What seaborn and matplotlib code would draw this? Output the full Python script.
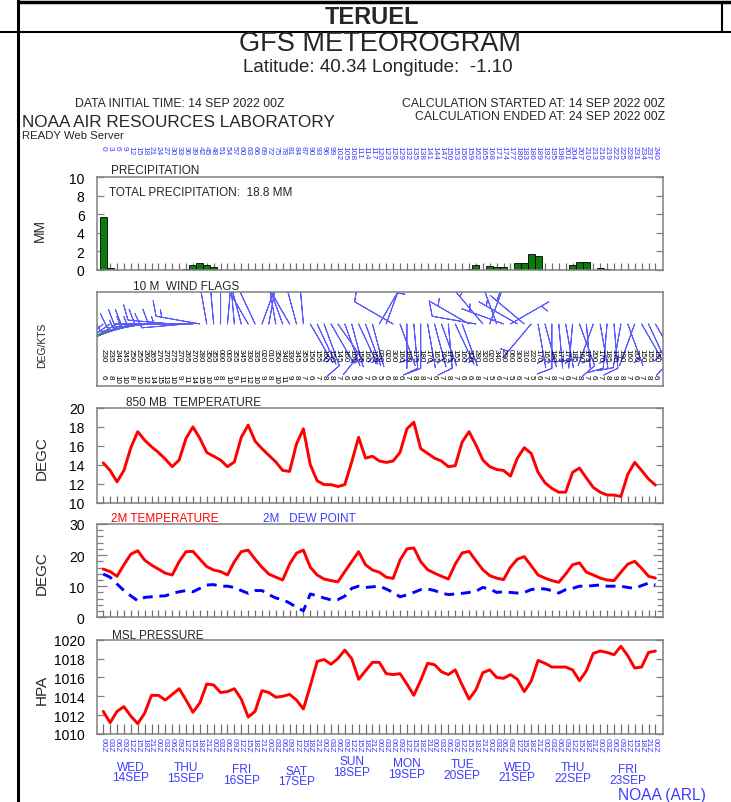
import numpy as np
import matplotlib
matplotlib.use('Agg')
import matplotlib.pyplot as plt
import matplotlib.transforms as mtransforms
from matplotlib.lines import Line2D
from matplotlib.ticker import MultipleLocator
import seaborn as sns

# values, one per 3 h step from 14 SEP 2022 00Z
steps = np.arange(81)
fc_hours = steps * 3

t850 = [14.2, 13.4, 12.2, 13.4, 15.8, 17.5, 16.6, 15.9, 15.3, 14.6,
        13.8, 14.5, 16.8, 18.0, 16.8, 15.3, 14.9, 14.5, 13.8, 14.3,
        16.9, 18.2, 16.5, 15.7, 15.0, 14.3, 13.4, 13.3, 16.2, 17.8,
        14.0, 12.3, 11.9, 11.9, 11.7, 11.9, 14.3, 16.9, 14.7, 14.9,
        14.4, 14.25, 14.4, 15.3, 17.8, 18.5, 15.7, 15.2, 14.7, 14.4,
        13.8, 13.9, 16.4, 17.5, 16.1, 14.5, 13.8, 13.5, 13.4, 12.8,
        14.7, 15.8, 15.2, 13.2, 12.1, 11.5, 11.1, 11.1, 13.2, 13.65,
        12.6, 11.6, 11.1, 10.8, 10.8, 10.65, 13.0, 14.25, 13.4, 12.5,
        11.85]

t2m = [15.5, 14.7, 13.2, 16.9, 20.3, 21.4, 18.4, 16.8, 15.5, 14.2,
       13.6, 17.9, 21.1, 21.2, 18.7, 16.3, 15.2, 14.7, 13.6, 17.9,
       21.1, 21.6, 18.7, 16.1, 13.9, 12.9, 12.0, 17.1, 20.6, 21.6,
       16.1, 13.6, 12.3, 11.8, 11.4, 14.7, 17.9, 21.1, 16.9, 15.2,
       14.5, 12.9, 12.5, 18.4, 22.0, 22.3, 17.9, 15.3, 14.2, 13.2,
       12.3, 17.1, 20.7, 21.2, 18.2, 15.3, 13.4, 12.6, 12.1, 16.1,
       18.7, 19.5, 16.6, 13.6, 12.6, 11.8, 11.25, 13.9, 16.9, 17.5,
       14.5, 13.6, 12.6, 12.0, 11.8, 14.5, 17.1, 18.0, 15.75, 13.2,
       12.6]

td2m = [13.9, 12.9, 10.7, 8.6, 6.9, 5.3, 6.4, 6.6, 6.8, 6.9,
        7.7, 8.2, 8.6, 8.2, 9.3, 10.4, 10.5, 10.0, 10.0, 9.6,
        8.6, 7.7, 8.6, 8.6, 7.3, 6.2, 5.7, 4.6, 3.2, 2.1,
        7.5, 6.9, 6.2, 5.6, 5.7, 6.8, 9.3, 10.0, 9.6, 9.8,
        10.0, 9.1, 8.0, 6.6, 7.2, 8.0, 8.9, 9.1, 8.6, 7.8,
        7.3, 7.5, 7.7, 8.0, 8.4, 9.6, 9.1, 8.0, 8.2, 8.0,
        7.8, 8.0, 8.9, 9.3, 9.1, 8.6, 7.8, 8.9, 9.3, 10.0,
        10.0, 10.2, 10.4, 10.0, 10.0, 10.0, 9.6, 9.3, 10.2, 11.0,
        10.4]

mslp = [1012.4, 1011.2, 1012.4, 1012.9, 1011.9, 1011.1, 1012.2, 1014.1, 1014.1, 1013.6,
        1014.2, 1014.8, 1013.6, 1012.3, 1013.3, 1015.3, 1015.2, 1014.4, 1014.5, 1014.8,
        1013.7, 1011.8, 1012.4, 1014.6, 1014.4, 1013.9, 1014.0, 1014.2, 1013.6, 1012.65,
        1015.1, 1017.7, 1017.9, 1017.4, 1018.0, 1018.9, 1018.0, 1015.8, 1016.7, 1017.6,
        1017.6, 1016.4, 1016.3, 1016.4, 1015.3, 1014.1, 1015.7, 1017.5, 1017.35, 1016.6,
        1016.3, 1016.8, 1015.2, 1013.7, 1014.7, 1016.5, 1016.8, 1016.0, 1015.9, 1016.3,
        1015.8, 1014.5, 1015.6, 1017.8, 1017.5, 1017.1, 1017.1, 1017.1, 1016.8, 1015.65,
        1016.7, 1018.55, 1018.8, 1018.65, 1018.4, 1019.3, 1018.3, 1017.0, 1017.1, 1018.65,
        1018.8]

precip_step = [0, 1, 12, 13, 14, 15, 16, 53, 54, 56, 57, 58, 60, 61, 62, 63, 64, 68, 69, 70, 72, 73]
precip_mm = [5.75, 0.25, 0.14, 0.57, 0.71, 0.54, 0.36, 0.1, 0.57, 0.46, 0.36, 0.36,
             0.75, 0.75, 1.68, 1.54, 0.04, 0.57, 0.89, 0.89, 0.21, 0.07]
total_precip = 18.8

wind_dir = [230, 235, 240, 245, 250,
            255, 260, 265, 270, 270, 275, 270, 265, 270, 280,
            350, 355, 0, 5, 355, 345, 330, 335, 20, 10, 350, 340, 330, 345, 355,
            150, 155, 160, 150, 145, 160, 165, 155, 160,
            165, 30, 20, 300, 160,
            180, 175, 180, 170, 165, 160, 175, 155, 160,
            300, 280, 320, 20, 340, 290, 60, 300, 310, 220,
            170, 165, 180, 175, 170, 185, 160, 175,
            200, 170, 185, 175, 190, 160, 200, 150, 155, 150]
wind_kt = [6, 8, 10, 10, 8,
           10, 12, 14, 15, 13, 10, 9, 11, 14, 15,
           10, 9, 8, 10, 9, 11, 12, 10, 9, 8, 10, 11, 9, 8, 7,
           6, 7, 8, 8, 7, 6, 5, 6, 7,
           6, 5, 6, 8, 6,
           7, 8, 8, 7, 6, 7, 8, 7, 6,
           6, 8, 7, 5, 6, 7, 5, 6, 7, 5,
           6, 7, 8, 7, 6, 7, 8, 7,
           6, 7, 8, 9, 8, 7, 6, 7, 8, 6]
wind_green = [2, 3, 4]

day_names = ['WED', 'THU', 'FRI', 'SAT', 'SUN', 'MON', 'TUE', 'WED', 'THU', 'FRI']
day_dates = ['14SEP', '15SEP', '16SEP', '17SEP', '18SEP', '19SEP', '20SEP', '21SEP', '22SEP', '23SEP']
hour_labels = ['%02dZ' % (h % 24) for h in fc_hours]

# layout helpers (pixel positions of the 731x803 picture)
W, H = 731, 803
BLUE = '#3c3cff'
GRAY = '#808080'

sns.set_theme(style='white')
plt.rcParams['font.family'] = ['Liberation Sans', 'DejaVu Sans']

fig = plt.figure(figsize=(W / 100, H / 100), dpi=100)


def fy(py):
    return 1 - py / H


def txt(px, py, s, size, **kw):
    fig.text(px / W, fy(py), s, fontsize=size, va='center', **kw)


def panel(top, bottom):
    ax = fig.add_axes([97 / W, fy(bottom), (663 - 97) / W, (bottom - top) / H])
    ax.set_xlim(-0.9, 81.1)
    ax.set_facecolor('white')
    for sp in ax.spines.values():
        sp.set_color(GRAY)
        sp.set_linewidth(1.1)
    ax.set_xticks(steps)
    ax.tick_params(axis='x', direction='in', length=5, width=0.9, color='#707070',
                   labelbottom=False, bottom=True, top=False)
    ax.tick_params(axis='y', direction='in', length=5, width=0.9, color=GRAY,
                   left=True, right=True, labelsize=10, pad=9, labelcolor='black')
    ax.set_xlabel('')
    ax.set_ylabel('')
    return ax


# frame lines
fig.add_artist(Line2D([18 / W, 18 / W], [0, 1], color='black', lw=2.2))
fig.add_artist(Line2D([18 / W, 1], [fy(3), fy(3)], color='black', lw=2.5))
fig.add_artist(Line2D([0, 1], [fy(33), fy(33)], color='black', lw=1.5))
fig.add_artist(Line2D([722 / W, 722 / W], [fy(3), fy(33)], color='black', lw=1.5))

# header
txt(372, 18, 'TERUEL', 17, ha='center', fontweight='bold')
txt(380, 44, 'GFS METEOROGRAM', 19.5, ha='center')
txt(378, 67, 'Latitude: 40.34 Longitude:  -1.10', 13.5, ha='center')
txt(75, 104, 'DATA INITIAL TIME: 14 SEP 2022 00Z', 8.8, ha='left')
txt(665, 104, 'CALCULATION STARTED AT: 14 SEP 2022 00Z', 8.8, ha='right')
txt(665, 117, 'CALCULATION ENDED AT: 24 SEP 2022 00Z', 8.8, ha='right')
txt(22, 123, 'NOAA AIR RESOURCES LABORATORY', 12.3, ha='left')
txt(22, 136, 'READY Web Server', 8.2, ha='left')

# precipitation
ax1 = panel(178, 271)
ax1.bar(precip_step, precip_mm, width=1.0, color='#0b7a0b', edgecolor='black', linewidth=0.6)
ax1.set_ylim(0, 10)
ax1.set_yticks(range(0, 11, 2))
ax1.text(0.022, 0.84, 'TOTAL PRECIPITATION:  %.1f MM' % total_precip, transform=ax1.transAxes,
         fontsize=8.5, va='center')
txt(111, 171, 'PRECIPITATION', 8.5, ha='left')
txt(40, 230, 'MM', 10, ha='center', rotation=90)
tr1 = mtransforms.blended_transform_factory(ax1.transData, fig.transFigure)
for s, h in zip(steps, fc_hours):
    ax1.text(s, fy(146), str(h), transform=tr1, rotation=-90, ha='center', va='top',
             fontsize=6, color=BLUE)

# wind flags
ax2 = panel(293, 387)
ax2.set_ylim(0, 1)
ax2.set_yticks([])
ax2.tick_params(axis='x', bottom=False)
rad = np.deg2rad(wind_dir)
u = -np.array(wind_kt) * np.sin(rad)
v = -np.array(wind_kt) * np.cos(rad)
col = ['#2e9a2e' if i in wind_green else '#5a5aff' for i in steps]
ax2.barbs(steps, np.full(81, 0.66), u, v, color=col, length=8, linewidth=0.7,
          sizes=dict(spacing=0.13, height=0.33))
tr2 = mtransforms.blended_transform_factory(ax2.transData, fig.transFigure)
for s, d, k in zip(steps, wind_dir, wind_kt):
    ax2.text(s, fy(349), '%03d' % d, transform=tr2, rotation=-90, ha='center', va='top',
             fontsize=5.8, color='black')
    ax2.text(s, fy(375), '%d' % k, transform=tr2, rotation=-90, ha='center', va='top',
             fontsize=5.8, color='black')
txt(133, 287, '10 M  WIND FLAGS', 8.5, ha='left')
txt(42, 345, 'DEG/KTS', 7.5, ha='center', rotation=90)

# 850 mb temperature
ax3 = panel(409, 503.6)
sns.lineplot(x=steps, y=t850, ax=ax3, color='red', lw=2.1)
ax3.set_ylim(10, 20)
ax3.set_yticks(range(10, 21, 2))
ax3.set_xlabel('')
txt(126, 403, '850 MB  TEMPERATURE', 8.5, ha='left')
txt(42, 458, 'DEGC', 11, ha='center', rotation=90)

# 2 m temperature and dew point
ax4 = panel(525, 618.3)
sns.lineplot(x=steps, y=t2m, ax=ax4, color='red', lw=2.1)
sns.lineplot(x=steps, y=td2m, ax=ax4, color='#0000ff', lw=2.1, linestyle=(0, (3.4, 2.3)))
ax4.set_ylim(0, 30)
ax4.set_yticks([0, 10, 20, 30])
ax4.yaxis.set_minor_locator(MultipleLocator(2))
ax4.tick_params(axis='y', which='minor', direction='in', length=4, width=0.9, color=GRAY,
                left=True, right=True)
ax4.tick_params(axis='y', which='major', length=7)
ax4.set_xlabel('')
txt(111, 519, '2M TEMPERATURE', 8.5, ha='left', color='red')
txt(263, 519, '2M   DEW POINT', 8.5, ha='left', color=BLUE)
txt(42, 573, 'DEGC', 11, ha='center', rotation=90)

# msl pressure
ax5 = panel(640.7, 735)
sns.lineplot(x=steps, y=mslp, ax=ax5, color='red', lw=2.1)
ax5.set_ylim(1010, 1020)
ax5.set_yticks(range(1010, 1021, 2))
ax5.tick_params(axis='x', length=7)
ax5.set_xlabel('')
txt(112, 636, 'MSL PRESSURE', 8.5, ha='left')
txt(42, 690, 'HPA', 11, ha='center', rotation=90)

tr5 = mtransforms.blended_transform_factory(ax5.transData, fig.transFigure)
for s, lab in zip(steps, hour_labels):
    ax5.text(s, fy(738.5), lab, transform=tr5, rotation=-90, ha='center', va='top',
             fontsize=6, color=BLUE)
day_y = [767.7, 768.3, 770.3, 771.7, 762.3, 764.0, 765.3, 767.7, 768.3, 770.3]
for i, (dn, dd) in enumerate(zip(day_names, day_dates)):
    xpos = 4 + 8 * i
    ax5.text(xpos, fy(day_y[i]), dn, transform=tr5, ha='center', va='center',
             fontsize=8.6, color=BLUE)
    ax5.text(xpos, fy(day_y[i] + 10.8), dd, transform=tr5, ha='center', va='center',
             fontsize=8.6, color=BLUE)
txt(662, 796, 'NOAA (ARL)', 11.2, ha='center', color=BLUE)

fig.savefig('out.png', dpi=100)
